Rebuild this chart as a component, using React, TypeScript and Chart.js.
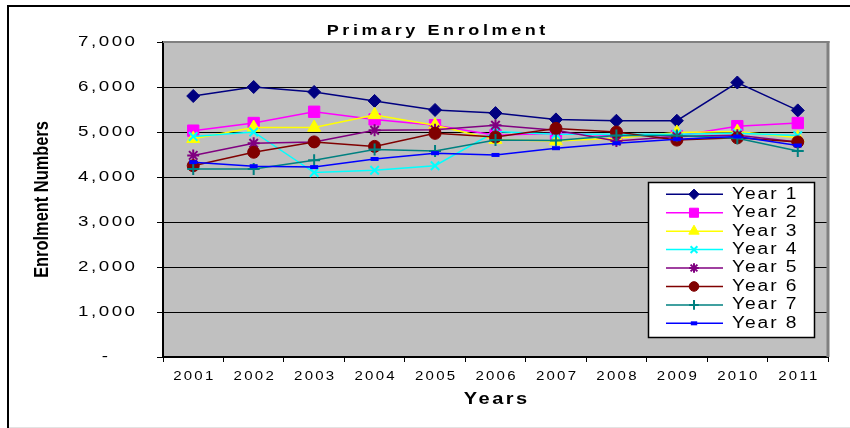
import React, { useEffect, useRef } from 'react';
import { Chart, registerables } from 'chart.js';
import { drawPoint } from 'chart.js/helpers';

Chart.register(...registerables);

// ---------- data ----------
const years = ['2001', '2002', '2003', '2004', '2005', '2006', '2007', '2008', '2009', '2010', '2011'];

const year1 = [5800, 6000, 5890, 5690, 5490, 5420, 5280, 5250, 5250, 6100, 5480];
const year2 = [5030, 5200, 5450, 5280, 5150, 4930, 4970, 4920, 4910, 5130, 5200];
const year3 = [4850, 5100, 5100, 5380, 5150, 4830, 4800, 4860, 4990, 5010, 4870];
const year4 = [4900, 5000, 4100, 4150, 4250, 5010, 4950, 4950, 4950, 4970, 4920];
const year5 = [4480, 4750, 4780, 5040, 5050, 5150, 5040, 4800, 4900, 4930, 4780];
const year6 = [4250, 4550, 4780, 4680, 4970, 4890, 5080, 5000, 4820, 4870, 4780];
const year7 = [4180, 4180, 4370, 4610, 4580, 4820, 4810, 4920, 4920, 4860, 4580];
const year8 = [4330, 4240, 4220, 4400, 4530, 4490, 4640, 4750, 4840, 4900, 4700];

const seriesValues = [year1, year2, year3, year4, year5, year6, year7, year8];
const seriesNames = ['Year 1', 'Year 2', 'Year 3', 'Year 4', 'Year 5', 'Year 6', 'Year 7', 'Year 8'];
const seriesColors = ['#000080', '#FF00FF', '#FFFF00', '#00FFFF', '#800080', '#800000', '#008080', '#0000FF'];
const seriesMarkers = ['rectRot', 'rect', 'triangle', 'crossRot', 'star', 'circle', 'cross', 'line'];
const markerRadius = [6.5, 8, 7.5, 6, 6, 6, 6, 4];
const markerBorder = [1, 1, 1, 2, 2, 1, 2, 4];

const yTickValues = [0, 1000, 2000, 3000, 4000, 5000, 6000, 7000];
const yTickLabels = ['-', '1,000', '2,000', '3,000', '4,000', '5,000', '6,000', '7,000'];

const chartTitle = 'Primary Enrolment';
const xAxisTitle = 'Years';
const yAxisTitle = 'Enrolment Numbers';

// ---------- helpers ----------
const FONT = '"Liberation Sans", Arial, sans-serif';

type TextOpts = {
  font: string;
  align: 'left' | 'right' | 'center';
  sx: number;
  ls: number;
  rotate?: number;
  color?: string;
};

function drawText(ctx: CanvasRenderingContext2D, text: string, x: number, y: number, o: TextOpts) {
  ctx.save();
  ctx.font = o.font;
  ctx.fillStyle = o.color || '#000';
  ctx.textBaseline = 'middle';
  ctx.textAlign = 'left';
  (ctx as any).letterSpacing = '0px';
  const natural = ctx.measureText(text).width;
  const total = natural + o.ls * (text.length - 1);
  (ctx as any).letterSpacing = o.ls + 'px';
  ctx.translate(x, y);
  if (o.rotate) ctx.rotate(o.rotate);
  ctx.scale(o.sx, 1);
  const start = o.align === 'center' ? -total / 2 : o.align === 'right' ? -total : 0;
  ctx.fillText(text, start, 0);
  ctx.restore();
}

const decorPlugin = {
  id: 'decor',
  beforeDraw(chart: any) {
    const { ctx, chartArea: a, width, height } = chart;
    ctx.save();
    ctx.fillStyle = '#fff';
    ctx.fillRect(0, 0, width, height);
    // outer frame
    ctx.fillStyle = '#000';
    ctx.fillRect(7, 5, width - 7, 2);
    ctx.fillRect(7, 5, 2, height - 5);
    ctx.fillStyle = '#e3e3e3';
    ctx.fillRect(9, height - 1, width - 9, 1);
    // plot area
    ctx.fillStyle = '#C0C0C0';
    ctx.fillRect(a.left, a.top, a.right - a.left, a.bottom - a.top);
    ctx.restore();
  },
  beforeDatasetsDraw(chart: any) {
    const { ctx, chartArea: a } = chart;
    ctx.save();
    ctx.fillStyle = '#808080';
    ctx.fillRect(a.left, a.top - 1, a.right - a.left + 1.5, 2);
    ctx.fillRect(a.right - 1.5, a.top - 1, 3, a.bottom - a.top + 1);
    ctx.restore();
  },
  afterDraw(chart: any) {
    const { ctx, chartArea: a } = chart;
    const xs = chart.scales.x;
    const ys = chart.scales.y;

    // title
    drawText(ctx, chartTitle, 436, 31, { font: `bold 15px ${FONT}`, align: 'center', sx: 1.2, ls: 3 });

    // y tick labels
    yTickValues.forEach((v, i) => {
      const y = ys.getPixelForValue(v);
      const right = v === 0 ? 108 : 135;
      drawText(ctx, yTickLabels[i], right, y, { font: `15px ${FONT}`, align: 'right', sx: 1.25, ls: 2 });
    });

    // x tick labels
    years.forEach((lab, i) => {
      const x = xs.getPixelForValue(i);
      drawText(ctx, lab, x, 377, { font: `12px ${FONT}`, align: 'center', sx: 1.25, ls: 1.8 });
    });

    // axis titles
    drawText(ctx, xAxisTitle, (a.left + a.right) / 2, 400, { font: `bold 16px ${FONT}`, align: 'center', sx: 1.25, ls: 2 });
    drawText(ctx, yAxisTitle, 42, (a.top + a.bottom) / 2, {
      font: `bold 20px ${FONT}`, align: 'center', sx: 0.82, ls: 0, rotate: -Math.PI / 2,
    });

    // legend
    const bx = 648, by = 182, bw = 166, bh = 155;
    ctx.save();
    ctx.fillStyle = '#fff';
    ctx.fillRect(bx, by, bw, bh);
    ctx.strokeStyle = '#000';
    ctx.lineWidth = 1.5;
    ctx.strokeRect(bx + 0.5, by + 0.5, bw, bh);
    ctx.restore();
    const row0 = 194.3, step = 18.43;
    seriesNames.forEach((name, i) => {
      const y = row0 + i * step;
      ctx.save();
      ctx.strokeStyle = seriesColors[i];
      ctx.lineWidth = 1.5;
      ctx.beginPath();
      ctx.moveTo(666, y);
      ctx.lineTo(723, y);
      ctx.stroke();
      ctx.fillStyle = seriesColors[i];
      ctx.strokeStyle = seriesColors[i];
      ctx.lineWidth = markerBorder[i];
      drawPoint(ctx, {
        pointStyle: seriesMarkers[i] as any,
        rotation: 0,
        radius: markerRadius[i] * 0.8,
        borderWidth: markerBorder[i],
      } as any, 694, y);
      ctx.restore();
      drawText(ctx, name, 732, y, { font: `16px ${FONT}`, align: 'left', sx: 1.2, ls: 1.6 });
    });
  },
};

export default function App() {
  const canvasRef = useRef<HTMLCanvasElement | null>(null);

  useEffect(() => {
    const canvas = canvasRef.current;
    if (!canvas) return;
    const datasets = seriesValues.map((vals, i) => ({
      label: seriesNames[i],
      data: vals,
      borderColor: seriesColors[i],
      backgroundColor: seriesColors[i],
      borderWidth: 1.5,
      pointStyle: seriesMarkers[i] as any,
      pointRadius: markerRadius[i],
      pointBackgroundColor: seriesColors[i],
      pointBorderColor: seriesColors[i],
      pointBorderWidth: markerBorder[i],
      tension: 0,
      fill: false,
      order: seriesValues.length - 1 - i,
      clip: 10,
    }));

    const chart = new Chart(canvas, {
      type: 'line',
      data: { labels: years, datasets },
      plugins: [decorPlugin],
      options: {
        responsive: false,
        animation: false,
        devicePixelRatio: 1,
        layout: { padding: { left: 0, right: 22, top: 42, bottom: 0 } },
        plugins: {
          legend: { display: false },
          title: { display: false },
          tooltip: { enabled: false },
        },
        scales: {
          x: {
            type: 'category',
            offset: true,
            grid: {
              offset: true,
              drawOnChartArea: false,
              drawTicks: true,
              tickLength: 5,
              color: '#000',
              lineWidth: 1,
            },
            border: { display: true, color: '#000', width: 2 },
            ticks: { display: false, autoSkip: false },
            afterFit: (s: any) => { s.height = 71; },
          },
          y: {
            min: 0,
            max: 7000,
            ticks: { display: false, stepSize: 1000 },
            grid: {
              color: (c: any) => (c.tick && c.tick.value === 7000 ? '#808080' : '#000'),
              tickColor: '#000',
              tickLength: 6,
              lineWidth: 1,
            },
            border: { display: true, color: '#000', width: 2 },
            afterFit: (s: any) => { s.width = 163; },
          },
        },
      } as any,
    });
    return () => chart.destroy();
  }, []);

  return (
    <div style={{ position: 'absolute', left: 0, top: 0, width: 850, height: 428 }}>
      <canvas ref={canvasRef} width={850} height={428} style={{ width: 850, height: 428, display: 'block' }} />
    </div>
  );
}
